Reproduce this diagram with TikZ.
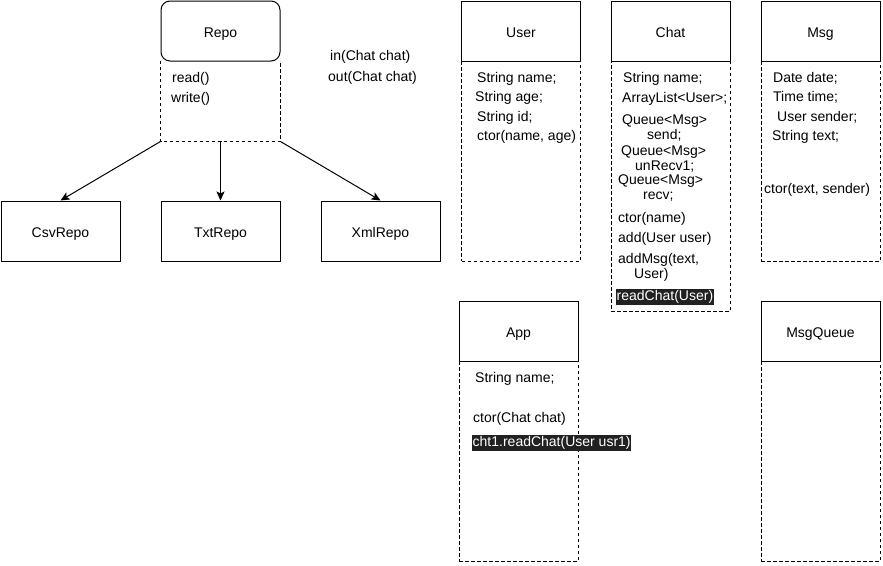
\documentclass[tikz,border=0pt]{standalone}
\usepackage{fontspec}
\setmainfont{Liberation Sans}
\usetikzlibrary{arrows.meta}
\begin{document}
\begin{tikzpicture}[x=1pt,y=1pt]
\tikzstyle{every node}+=[inner sep=0pt, font=\fontsize{14}{16}\selectfont]
\tikzstyle{head}=[draw, fill=white, line width=1pt, minimum width=119pt, minimum height=60pt, text height=12.5pt, text depth=0pt]
\tikzstyle{body}=[line width=1pt, dash pattern=on 3.5pt off 2.5pt, minimum width=119pt]
\tikzstyle{member}=[anchor=base west]
\tikzstyle{hilite}=[anchor=base west, fill=black!87, text=white, inner xsep=0.5pt, inner ysep=1pt, text height=10.5pt, text depth=3.5pt]
\tikzstyle{link}=[line width=1pt, -{Stealth[length=9pt,width=8pt,inset=2pt]}]
\useasboundingbox (0,0) rectangle (883,-565);
\node[body] (repoBody) at (220.5,-101) [minimum height=80pt] {};
\draw[body] (repoBody.north west) |- (repoBody.south) -| (repoBody.north east);
\node[head, rounded corners=9pt] (repo) at (220.5,-31) {Repo};
\node[member] (repoRead) at (172,-82) {read()};
\node[member] (repoWrite) at (171,-102) {write()};
\node[member] (inChat) at (330,-60) {in(Chat chat)};
\node[member] (outChat) at (328,-81) {out(Chat chat)};
\node[head] (csv) at (60.5,-231) {CsvRepo};
\node[head] (txt) at (220.5,-231) {TxtRepo};
\node[head] (xml) at (380.5,-231) {XmlRepo};
\draw[link] (repoBody.south west) -- (csv.north);
\draw[link] (repoBody.south) -- (txt.north);
\draw[link] (repoBody.south east) -- (xml.north);
\node[body, draw, minimum height=200pt] (userBody) at (521,-161) {};
\node[head] (user) at (521,-31) {User};
\node[member] (userName) at (477,-82) {String name;};
\node[member] (userAge) at (475,-101) {String age;};
\node[member] (userId) at (477,-121) {String id;};
\node[member] (userCtor) at (477,-140) {ctor(name, age)};
\node[body, draw, minimum height=250pt] (chatBody) at (670.5,-186) {};
\node[head] (chat) at (670.5,-31) {Chat};
\node[member] (chatName) at (623,-82) {String name;};
\node[member] (chatUsers) at (622,-102) {ArrayList<User>;};
\node[member] (chatSend) at (622,-124) {Queue<Msg>};
\node[member] (chatSendB) at (647,-139) {send;};
\node[member] (chatUnrecv) at (621,-155) {Queue<Msg>};
\node[member] (chatUnrecvB) at (635,-170) {unRecv1;};
\node[member] (chatRecv) at (618,-184) {Queue<Msg>};
\node[member] (chatRecvB) at (643,-199) {recv;};
\node[member] (chatCtor) at (618,-222) {ctor(name)};
\node[member] (chatAdd) at (618,-242) {add(User user)};
\node[member] (chatAddMsg) at (618,-263) {addMsg(text,};
\node[member] (chatAddMsgB) at (634,-278) {User)};
\node[hilite] (chatRead) at (616,-300) {readChat(User)};
\node[body, draw, minimum height=200pt] (msgBody) at (820.5,-161) {};
\node[head] (msg) at (820.5,-31) {Msg};
\node[member] (msgDate) at (773,-82) {Date date;};
\node[member] (msgTime) at (773,-101) {Time time;};
\node[member] (msgSender) at (777,-121) {User sender;};
\node[member] (msgText) at (772,-140) {String text;};
\node[member] (msgCtor) at (764,-193) {ctor(text, sender)};
\node[body, draw, minimum height=200pt] (appBody) at (518.5,-461) {};
\node[head] (app) at (518.5,-331) {App};
\node[member] (appName) at (475,-382) {String name;};
\node[member] (appCtor) at (473,-422) {ctor(Chat chat)};
\node[hilite] (appRead) at (472,-446) {cht1.readChat(User usr1)};
\node[body, draw, minimum height=200pt] (queueBody) at (820.5,-461) {};
\node[head] (queue) at (820.5,-331) {MsgQueue};
\end{tikzpicture}
\end{document}
